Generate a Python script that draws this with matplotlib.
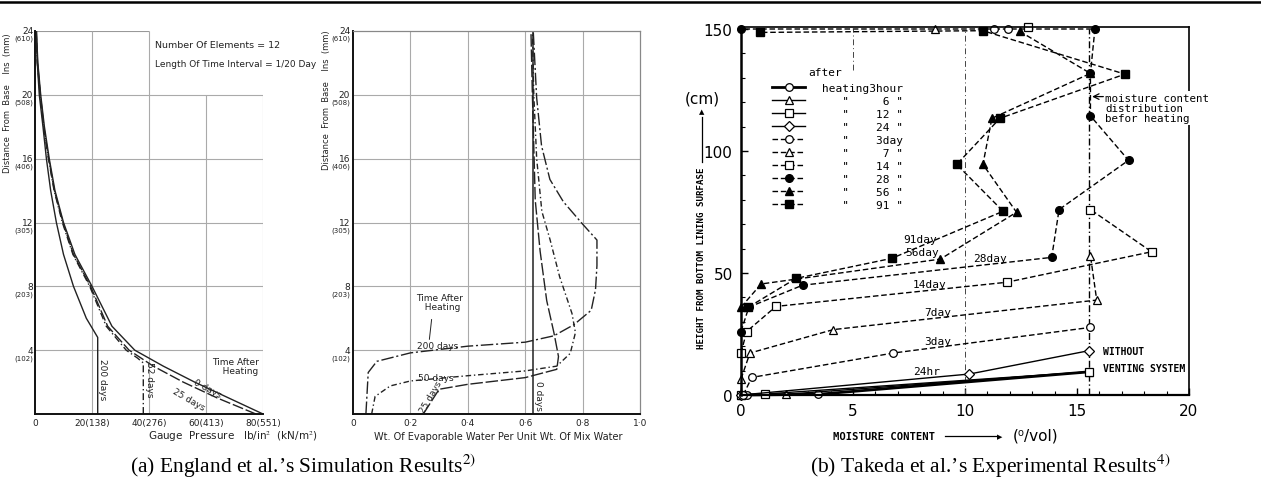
import numpy as np
import matplotlib.pyplot as plt
from matplotlib.lines import Line2D
from matplotlib.transforms import offset_copy

plt.rcParams['mathtext.fontset'] = 'stix'

W, H = 1261, 485

# ---------------- (a) left: gauge pressure vs distance ----------------
dist_y = [0, 1, 2, 3, 4, 5.5, 8, 10, 12, 14, 16, 18, 20, 22, 24]
press_0d = [80, 68, 56, 45, 35, 27, 20, 14, 10, 7, 5, 3.3, 2, 1, 0.5]
press_25d = [77.5, 64, 52, 41.5, 33, 25.5, 19.5, 13.5, 9.8, 6.8, 4.8, 3.1, 1.9, 0.9, 0.4]
press_52d_y = [0, 3.2, 3.5, 4, 5.5, 8, 10, 12, 14, 16, 18, 20, 22, 24]
press_52d = [38, 38, 36, 32, 25, 19.2, 13.3, 9.6, 6.7, 4.7, 3.0, 1.8, 0.8, 0.3]
press_200d_y = [0, 4.8, 6, 8, 10, 12, 14, 16, 18, 20, 22, 24]
press_200d = [22, 22, 18, 13.5, 10, 7.5, 5.5, 4, 2.8, 1.5, 0.8, 0.5]

press_xticks = [0, 20, 40, 60, 80]
press_xlabels = ['0', '20(138)', '40(276)', '60(413)', '80(551)']
dist_ticks = [4, 8, 12, 16, 20, 24]
dist_in = ['4', '8', '12', '16', '20', '24']
dist_mm = ['(102)', '(203)', '(305)', '(406)', '(508)', '(610)']

# ---------------- (a) right: evaporable water vs distance ----------------
wat_0d_x = [0.627, 0.627]
wat_0d_y = [0, 24]
wat_25d_x = [0.245, 0.30, 0.40, 0.60, 0.71, 0.716, 0.70, 0.675, 0.652, 0.635, 0.625, 0.62]
wat_25d_y = [0, 1.55, 1.86, 2.28, 2.8, 3.6, 5.1, 7.1, 10.2, 13.4, 20, 24]
wat_50d_x = [0.065, 0.077, 0.13, 0.20, 0.40, 0.60, 0.71, 0.757, 0.775, 0.763, 0.72, 0.687, 0.658, 0.64, 0.63, 0.625]
wat_50d_y = [0, 1.1, 1.76, 2.07, 2.4, 2.7, 3.0, 3.8, 5.1, 6.3, 8.6, 10.9, 12.7, 16, 20, 24]
wat_200d_x = [0.045, 0.053, 0.083, 0.20, 0.40, 0.60, 0.70, 0.77, 0.83, 0.845, 0.85, 0.85,
              0.80, 0.733, 0.686, 0.657, 0.64, 0.634, 0.628]
wat_200d_y = [0, 2.6, 3.3, 3.83, 4.25, 4.5, 4.9, 5.6, 6.5, 7.8, 9.3, 10.9,
              11.9, 13.3, 14.7, 16.8, 19.8, 21.9, 24]
wat_xticks = [0, 0.2, 0.4, 0.6, 0.8, 1.0]
wat_xlabels = ['0', '0·2', '0·4', '0·6', '0·8', '1·0']

# ---------------- (b) Takeda moisture profiles ----------------
h3_x, h3_y = [0.25, 3.45, 15.55], [0, 0.3, 9.5]
h6_x, h6_y = [0, 2.0, 15.55], [0, 0.3, 9.5]
h12_x, h12_y = [0, 1.07, 15.55], [0, 0.4, 9.5]
h24_x, h24_y = [0, 10.2, 15.55], [0, 8.6, 18.2]
d3_x, d3_y = [0.1, 0.48, 6.8, 15.6], [0, 7.2, 17.2, 27.7]
d7_x, d7_y = [0, 0.4, 4.12, 15.88, 15.6], [6.6, 17.2, 26.8, 38.9, 57.1]
d14_x, d14_y = [0, 0.25, 1.56, 11.86, 18.33, 15.6], [17.2, 26, 36.3, 46.2, 58.7, 76]
d28_x = [0, 0.35, 2.75, 13.87, 14.2, 17.3, 15.6, 15.6, 15.8, 0]
d28_y = [26, 36, 45, 56.4, 76, 96.2, 114.4, 131.8, 150, 150]
d56_x = [0, 0.9, 8.9, 12.3, 10.8, 11.2, 15.6, 12.45]
d56_y = [36, 45.5, 55.7, 74.9, 94.5, 113.4, 131.8, 149]
d91_x = [0.33, 2.46, 6.73, 11.7, 9.63, 11.56, 17.14, 10.8, 0.85]
d91_y = [36, 47.8, 56, 75.3, 94.5, 113.4, 131.5, 149.3, 148.6]
top_circ_x = [11.3, 11.9]
top_tri_x = [8.66]
top_sq_x = [12.8]
top_y = 150
before_x = 15.55

fig = plt.figure(figsize=(W / 100, H / 100), dpi=100)


def rect(l, r, b, t):
    return [l / W, 1 - b / H, (r - l) / W, (b - t) / H]


# thick rule at the top
fig.add_artist(Line2D([0, 1], [1 - 2.5 / H] * 2, color='k', lw=1.8))

hand = dict(fontsize=6.5, color='#222', family='DejaVu Sans')
dashdot = (0, (5, 2, 1, 2))


def dist_labels(ax, xoff):
    tr = ax.get_yaxis_transform()
    tr_low = offset_copy(tr, fig=fig, y=-4, units='dots')
    for v, a, b in zip(dist_ticks, dist_in, dist_mm):
        ax.text(xoff, v, a, transform=tr, ha='right', va='center', fontsize=6.5, color='#222')
        ax.text(xoff, v, b, transform=tr_low, ha='right', va='top', fontsize=5, color='#222')


# ---- a1 ----
a1 = fig.add_axes(rect(35, 263, 415, 32))
a1.set_xlim(0, 80)
a1.set_ylim(0, 24)
for s in ['top', 'right']:
    a1.spines[s].set_visible(False)
for s in ['left', 'bottom']:
    a1.spines[s].set_linewidth(1.4)
    a1.spines[s].set_color('#111')
a1.hlines([4, 8, 12, 16, 20], 0, 80, color='#aaa', lw=0.8)
a1.hlines([24], 0, 40, color='#999', lw=0.8)
a1.vlines([20, 40], 0, 24, color='#aaa', lw=0.8)
a1.vlines([60, 80], 0, 20, color='#aaa', lw=0.8)
a1.plot(press_0d, dist_y, color='#222', lw=1.0)
a1.plot(press_25d, dist_y, color='#222', lw=1.0, dashes=(8, 2))
a1.plot(press_52d, press_52d_y, color='#222', lw=1.0, dashes=(5, 2, 1, 2))
a1.plot(press_200d, press_200d_y, color='#222', lw=1.0)
a1.set_xticks(press_xticks)
a1.set_xticklabels(press_xlabels, **hand)
a1.set_yticks([])
a1.tick_params(axis='x', length=0, pad=3)
dist_labels(a1, -0.008)
a1.text(42, 23, 'Number Of Elements = 12', fontsize=6.8, color='#222')
a1.text(42, 21.8, 'Length Of Time Interval = 1/20 Day', **hand)
a1.text(70.5, 3.0, 'Time After\n   Heating', ha='center', va='center', linespacing=1.0, **hand)
a1.text(60.4, 1.6, '0 days', rotation=-28, ha='center', va='center', **hand)
a1.text(54, 0.95, '25 days', rotation=-30, ha='center', va='center', **hand)
a1.text(23.8, 2.2, '200 days', rotation=-90, ha='center', va='center', **hand)
a1.text(40.3, 2.2, '52 days', rotation=-90, ha='center', va='center', **hand)
fig.text(233 / W, 1 - 437 / H, 'Gauge  Pressure   lb/in$^2$  (kN/m$^2$)', ha='center', va='center',
         fontsize=7.5, color='#222')
fig.text(8 / W, 1 - 103 / H, 'Distance  From  Base    Ins  (mm)', rotation=90, ha='center', va='center',
         fontsize=6, color='#222')

# ---- a2 ----
a2 = fig.add_axes(rect(353, 640, 415, 32))
a2.set_xlim(0, 1)
a2.set_ylim(0, 24)
for s in ['top', 'right']:
    a2.spines[s].set_color('#888')
    a2.spines[s].set_linewidth(0.9)
for s in ['left', 'bottom']:
    a2.spines[s].set_linewidth(1.4)
    a2.spines[s].set_color('#111')
a2.hlines([4, 8, 12, 16, 20], 0, 1, color='#aaa', lw=0.8)
a2.vlines([0.2, 0.4, 0.6, 0.8], 0, 24, color='#aaa', lw=0.8)
a2.plot(wat_0d_x, wat_0d_y, color='#222', lw=1.1)
a2.plot(wat_25d_x, wat_25d_y, color='#222', lw=1.0, dashes=(9, 2))
a2.plot(wat_50d_x, wat_50d_y, color='#222', lw=1.0, dashes=(4, 2, 1, 2))
a2.plot(wat_200d_x, wat_200d_y, color='#222', lw=1.0, dashes=(9, 2, 1.5, 2))
a2.set_xticks(wat_xticks)
a2.set_xticklabels(wat_xlabels, **hand)
a2.set_yticks([])
a2.tick_params(axis='x', length=0, pad=3)
dist_labels(a2, -0.01)
a2.text(0.303, 7.0, 'Time After\n  Heating', ha='center', va='center', linespacing=1.0, **hand)
a2.annotate('', xy=(0.265, 4.5), xytext=(0.275, 6.1),
            arrowprops=dict(arrowstyle='-', color='#222', lw=0.7))
a2.text(0.295, 4.3, '200 days', ha='center', va='center', **hand)
a2.text(0.29, 2.3, '50 days', ha='center', va='center', **hand)
a2.text(0.27, 1.1, '25 days', rotation=60, ha='center', va='center', **hand)
a2.text(0.645, 1.2, '0 days', rotation=-90, ha='center', va='center', **hand)
fig.text(498 / W, 1 - 437 / H, 'Wt. Of Evaporable Water Per Unit Wt. Of Mix Water',
         ha='center', va='center', fontsize=7, color='#222')
fig.text(326 / W, 1 - 100 / H, 'Distance  From  Base    Ins  (mm)', rotation=90, ha='center', va='center',
         fontsize=6, color='#222')

# ---- b ----
ab = fig.add_axes(rect(741, 1189, 396, 27.56))
ab.set_xlim(0, 20)
ab.set_ylim(0, 151)
for s in ab.spines.values():
    s.set_linewidth(1.2)
ab.spines['left'].set_linewidth(1.8)
ab.spines['bottom'].set_linewidth(1.6)
ab.set_xticks([0, 5, 10, 15, 20])
ab.set_yticks([0, 50, 100, 150])
ab.set_xticks(np.arange(0, 20, 1), minor=True)
ab.set_yticks(np.arange(0, 151, 10), minor=True)
ab.tick_params(direction='in', length=5, width=1, labelsize=11, pad=6)
ab.tick_params(which='minor', direction='in', length=3, width=0.8)

ab.vlines(before_x, 0, 150, color='k', lw=1.0, linestyles=[dashdot])
ab.vlines(10, 0, 150, color='#444', lw=0.7, linestyles=[(0, (6, 3, 1, 3))])
ab.vlines(5, 133, 150, color='#444', lw=0.7, linestyles=[(0, (6, 3, 1, 3))])

op = dict(color='k', mfc='white', mec='k', mew=0.9, ms=5.5, clip_on=False)
fl = dict(color='k', mfc='k', mec='k', ms=5.5, clip_on=False)
dsh = (4, 2)
ab.plot(h3_x, h3_y, marker='o', lw=2.0, label='heating3hour', **op)
ab.plot(h6_x, h6_y, marker='^', lw=1.0, label='   "     6 "', **op)
ab.plot(h12_x, h12_y, marker='s', lw=1.0, label='   "    12 "', **op)
ab.plot(h24_x, h24_y, marker='D', lw=1.0, label='   "    24 "', **dict(op, ms=5))
ab.plot(d3_x, d3_y, marker='o', lw=1.0, dashes=dsh, label='   "    3day', **op)
ab.plot(d7_x, d7_y, marker='^', lw=1.0, dashes=dsh, label='   "     7 "', **op)
ab.plot(d14_x, d14_y, marker='s', lw=1.0, dashes=dsh, label='   "    14 "', **op)
ab.plot(d28_x, d28_y, marker='o', lw=1.0, dashes=dsh, label='   "    28 "', **fl)
ab.plot(d56_x, d56_y, marker='^', lw=1.0, dashes=dsh, label='   "    56 "', **fl)
ab.plot(d91_x, d91_y, marker='s', lw=1.0, dashes=dsh, label='   "    91 "', **fl)
ab.plot(top_circ_x, [top_y] * len(top_circ_x), 'o', **op)
ab.plot(top_tri_x, [top_y] * len(top_tri_x), '^', **op)
ab.plot(top_sq_x, [top_y + 1] * len(top_sq_x), 's', **op)

mono = dict(family='DejaVu Sans Mono', color='k')
leg = ab.legend(loc='upper left', bbox_to_anchor=(0.069, 0.848), frameon=False,
                prop=dict(family='DejaVu Sans Mono', size=8), handlelength=3.0,
                handletextpad=1.5, labelspacing=0.27, borderpad=0, borderaxespad=0)
ab.text(3.0, 132.4, 'after', fontsize=8, va='center', **mono)

for txt, x, y in [('91day', 8.0, 64), ('56day', 8.1, 58.5), ('28day', 11.1, 56),
                  ('14day', 8.4, 45.5), ('7day', 8.8, 34), ('3day', 8.8, 22),
                  ('24hr', 8.3, 10)]:
    ab.text(x, y, txt, fontsize=8, ha='center', va='center', **mono)

ab.text(16.25, 117.6, 'moisture content\ndistribution\nbefor heating', fontsize=7.8,
        va='center', ha='left', linespacing=1.0,
        bbox=dict(boxstyle='square,pad=0.15', fc='white', ec='none'), **mono)
ab.annotate('', xy=(before_x, 122.3), xytext=(16.3, 122.3),
            arrowprops=dict(arrowstyle='->', color='k', lw=0.9))
ab.text(16.16, 18.1, 'WITHOUT', fontsize=7, weight='bold', va='center', **mono)
ab.text(16.16, 11.0, 'VENTING SYSTEM', fontsize=7, weight='bold', va='center', **mono)

fig.text(702 / W, 1 - 258 / H, 'HEIGHT FROM BOTTOM LINING SURFASE', rotation=90,
         ha='center', va='center', fontsize=6.6, weight='bold', **mono)
fig.add_artist(Line2D([702 / W, 702 / W], [1 - 163 / H, 1 - 118 / H], color='k', lw=0.9))
fig.text(702 / W, 1 - 112 / H, '\u25B2', ha='center', va='center', fontsize=5, color='k')
fig.text(702 / W, 1 - 99 / H, '(cm)', ha='center', va='center', fontsize=11)
fig.text(884 / W, 1 - 437 / H, 'MOISTURE CONTENT', ha='center', va='center',
         fontsize=7.6, weight='bold', **mono)
fig.add_artist(Line2D([945 / W, 996 / W], [1 - 437 / H] * 2, color='k', lw=0.9))
fig.text(1000 / W, 1 - 437 / H, '\u25B6', ha='center', va='center', fontsize=5, color='k')
fig.text(1013 / W, 1 - 436 / H, '(\u2070/vol)', ha='left', va='center', fontsize=11)

# captions
cap = dict(family='Liberation Serif', fontsize=15.5, ha='center', va='center')
fig.text(303 / W, 1 - 466 / H, "(a) England et al.\u2019s Simulation Results$^{2)}$", **cap)
fig.text(990 / W, 1 - 466 / H, "(b) Takeda et al.\u2019s Experimental Results$^{4)}$", **cap)

fig.savefig('out.png', dpi=100)
